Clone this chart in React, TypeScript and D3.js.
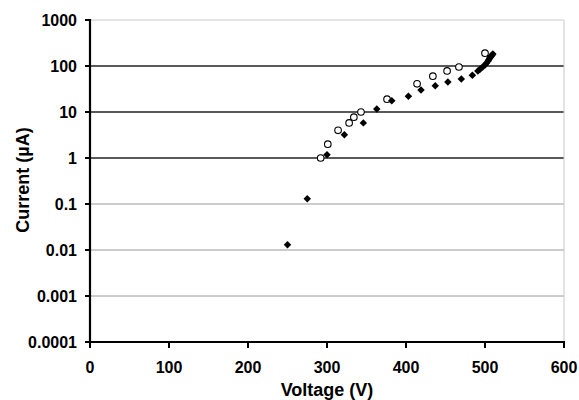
import React from "react";
import * as d3 from "d3";

const xTicks = [0, 100, 200, 300, 400, 500, 600];
const yTicks = [0.0001, 0.001, 0.01, 0.1, 1, 10, 100, 1000];
const yTickLabels = ["0.0001", "0.001", "0.01", "0.1", "1", "10", "100", "1000"];

// Filled diamonds series
const diamondV = [250, 275, 300, 322, 346, 363, 382, 403, 419, 437, 453, 470, 484, 491, 494, 497, 500, 502, 504, 505, 506, 507, 508, 509, 510];
const diamondI = [0.013, 0.13, 1.17, 3.2, 5.8, 11.6, 17.5, 22, 30, 37, 45, 52, 63, 78, 86, 95, 105, 116, 128, 138, 150, 157, 165, 173, 182];

// Open circles series
const circleV = [292, 301, 314, 328, 334, 343, 376, 414, 434, 452, 467, 500];
const circleI = [1.0, 2.0, 4.0, 5.8, 7.7, 10, 19, 41, 60, 78, 95, 190];

const W = 579;
const H = 400;
const left = 90, right = 564, top = 20, bottom = 342;

export default function App() {
  const x = d3.scaleLinear().domain([0, 600]).range([left, right]);
  const y = d3.scaleLog().domain([0.0001, 1000]).range([bottom, top]);
  const diamond = d3.symbol().type(d3.symbolSquare).size(28)();
  const font = "'Liberation Sans', Arial, sans-serif";

  const gridColor = (v: number) => {
    if (v >= 1000) return "#c8c8c8";
    if (v >= 1) return "#222";
    return "#9a9a9a";
  };

  return (
    <svg width={W} height={H} style={{ position: "absolute", left: 0, top: 0, background: "#fff" }}>
      {/* gridlines */}
      {yTicks.filter((v) => v > 0.0001).map((v) => (
        <line key={"g" + v} x1={left} x2={right} y1={y(v)} y2={y(v)}
          stroke={gridColor(v)} strokeWidth={v >= 1 && v < 1000 ? 1.5 : 1} />
      ))}
      {/* right border */}
      <line x1={right} x2={right} y1={top} y2={bottom} stroke="#c8c8c8" strokeWidth={1} />
      {/* axes */}
      <line x1={left} x2={left} y1={top - 1} y2={bottom + 1} stroke="#000" strokeWidth={2.2} />
      <line x1={left - 1} x2={right + 1} y1={bottom} y2={bottom} stroke="#000" strokeWidth={2.2} />
      {/* y ticks */}
      {yTicks.map((v, i) => (
        <g key={"yt" + v}>
          <line x1={left - 5} x2={left} y1={y(v)} y2={y(v)} stroke="#000" strokeWidth={2} />
          <text x={77} y={y(v)} dy="0.36em" textAnchor="end" fontFamily={font} fontWeight="bold" fontSize={16} fill="#000">
            {yTickLabels[i]}
          </text>
        </g>
      ))}
      {/* x ticks */}
      {xTicks.map((v) => (
        <g key={"xt" + v}>
          <line x1={x(v)} x2={x(v)} y1={bottom} y2={bottom + 6} stroke="#000" strokeWidth={2} />
          <text x={x(v)} y={373} textAnchor="middle" fontFamily={font} fontWeight="bold" fontSize={16} fill="#000">
            {v}
          </text>
        </g>
      ))}
      {/* axis titles */}
      <text x={327} y={396} textAnchor="middle" fontFamily={font} fontWeight="bold" fontSize={18} fill="#000">
        Voltage (V)
      </text>
      <text transform={`translate(29,180) rotate(-90)`} textAnchor="middle" fontFamily={font} fontWeight="bold" fontSize={18} fill="#000">
        Current (µA)
      </text>
      {/* open circles */}
      {circleV.map((v, i) => (
        <circle key={"c" + i} cx={x(v)} cy={y(circleI[i])} r={3.3} fill="#fff" stroke="#000" strokeWidth={1.1} />
      ))}
      {/* filled diamonds */}
      {diamondV.map((v, i) => (
        <path key={"d" + i} d={diamond} transform={`translate(${x(v)},${y(diamondI[i])}) rotate(45)`} fill="#000" />
      ))}
    </svg>
  );
}
